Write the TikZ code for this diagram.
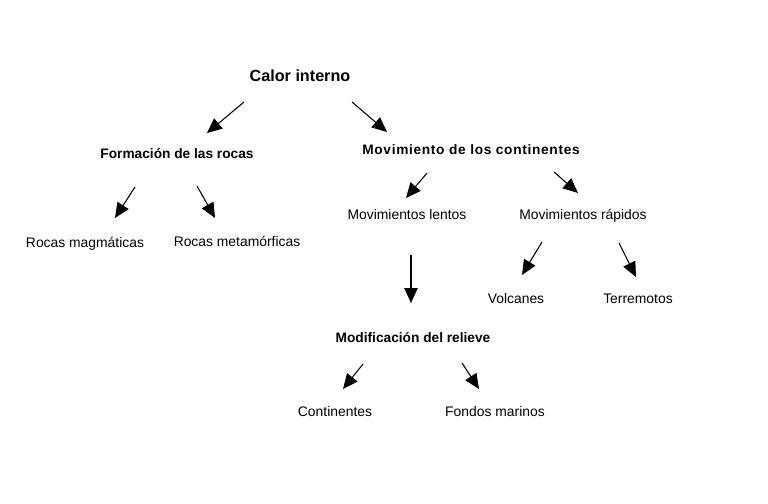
\documentclass[tikz,border=0pt]{standalone}
\usepackage{fontspec}
\setmainfont{Liberation Sans}
\usetikzlibrary{arrows.meta}
\begin{document}
\begin{tikzpicture}[x=0.02cm, y=0.02cm]
                \tikzstyle{every node}+=[inner sep=0pt]
                \tikzstyle{top}=[font=\fontsize{9.2}{11}\selectfont\bfseries]
                \tikzstyle{head}=[font=\fontsize{7.8}{9}\selectfont\bfseries]
                \tikzstyle{leaf}=[font=\fontsize{7.9}{9}\selectfont]
                \tikzstyle{link}=[black, line width=0.6pt, -{Triangle[length=8.5pt,width=7.5pt]}]
                \useasboundingbox (0,0) rectangle (768,-504);
                \draw (300,-76) node [top] (calor) {Calor interno};
                \draw (177,-154) node [head] (formacion) {Formación de las rocas};
                \draw (471,-150) node [head] (movcont) {\addfontfeature{LetterSpace=5}Movimiento de los continentes};
                \draw (85,-243.5) node [leaf] (magma) {Rocas magmáticas};
                \draw (237,-241) node [leaf] (metam) {Rocas metamórficas};
                \draw (407,-215) node [leaf] (lentos) {Movimientos lentos};
                \draw (583,-216) node [leaf] (rapidos) {Movimientos rápidos};
                \draw (516,-299) node [leaf] (volcanes) {Volcanes};
                \draw (638,-299) node [leaf] (terremotos) {Terremotos};
                \draw (413,-338) node [head] (relieve) {Modificación del relieve};
                \draw (335,-412) node [leaf] (continentes) {Continentes};
                \draw (495,-412) node [leaf] (fondos) {Fondos marinos};
                % arrow ends
                \coordinate (calor-a) at (244,-102);
                \coordinate (formacion-t) at (207,-133);
                \coordinate (calor-b) at (352,-102);
                \coordinate (movcont-t) at (387,-132);
                \coordinate (formacion-a) at (135,-187);
                \coordinate (magma-t) at (115,-218);
                \coordinate (formacion-b) at (197,-186);
                \coordinate (metam-t) at (215,-218);
                \coordinate (movcont-a) at (427,-173);
                \coordinate (lentos-t) at (406,-198);
                \coordinate (movcont-b) at (554,-172);
                \coordinate (rapidos-t) at (578,-193);
                \coordinate (lentos-a) at (411,-255);
                \coordinate (relieve-t) at (411,-303);
                \coordinate (rapidos-a) at (542,-242);
                \coordinate (volcanes-t) at (522,-275);
                \coordinate (rapidos-b) at (619,-243);
                \coordinate (terremotos-t) at (636,-277);
                \coordinate (relieve-a) at (363,-364);
                \coordinate (continentes-t) at (343,-389);
                \coordinate (relieve-b) at (462,-363);
                \coordinate (fondos-t) at (479,-389);
                \draw [link] (calor-a) -- (formacion-t);
                \draw [link] (calor-b) -- (movcont-t);
                \draw [link] (formacion-a) -- (magma-t);
                \draw [link] (formacion-b) -- (metam-t);
                \draw [link] (movcont-a) -- (lentos-t);
                \draw [link] (movcont-b) -- (rapidos-t);
                \draw [link, line width=1.1pt] (lentos-a) -- (relieve-t);
                \draw [link] (rapidos-a) -- (volcanes-t);
                \draw [link] (rapidos-b) -- (terremotos-t);
                \draw [link] (relieve-a) -- (continentes-t);
                \draw [link] (relieve-b) -- (fondos-t);
              \end{tikzpicture}
\end{document}
